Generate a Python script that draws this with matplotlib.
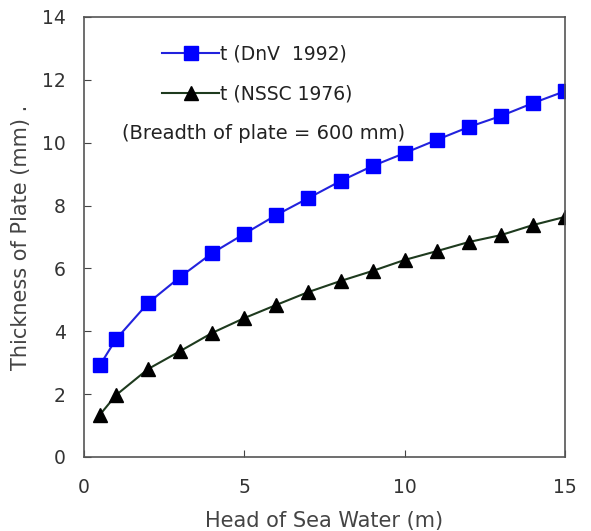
import matplotlib
matplotlib.use("Agg")
import matplotlib.pyplot as plt

head = [0.5, 1, 2, 3, 4, 5, 6, 7, 8, 9, 10, 11, 12, 13, 14, 15]
t_dnv = [2.93, 3.75, 4.9, 5.73, 6.49, 7.1, 7.7, 8.24, 8.78, 9.26, 9.67, 10.09, 10.5, 10.85, 11.26, 11.64]
t_nssc = [1.35, 1.97, 2.8, 3.37, 3.95, 4.42, 4.84, 5.25, 5.6, 5.92, 6.27, 6.55, 6.84, 7.06, 7.38, 7.64]
xticks = [0, 5, 10, 15]
yticks = [0, 2, 4, 6, 8, 10, 12, 14]

plt.rcParams['font.family'] = ['DejaVu Sans']
fig = plt.figure(figsize=(5.91, 5.31), dpi=100)
ax = fig.add_axes([84/591, 1 - 457/531, (565-84)/591, (457-17)/531])

ax.plot(head, t_dnv, color='#2222dd', lw=1.5, marker='s', ms=10,
        mfc='#0000ff', mec='#0000ff', label='t (DnV  1992)')
ax.plot(head, t_nssc, color='#1e3a1e', lw=1.5, marker='^', ms=10,
        mfc='black', mec='black', label='t (NSSC 1976)')

ax.set_xlim(0, 15)
ax.set_ylim(0, 14)
ax.set_xticks(xticks)
ax.set_yticks(yticks)
ax.tick_params(direction='in', length=5, labelsize=13.5, colors='#444444',
               labelcolor='#333333')
ax.tick_params(axis='x', pad=15)
ax.tick_params(axis='y', pad=13)
for s in ax.spines.values():
    s.set_color('#555555')
    s.set_linewidth(1.2)

ax.set_xlabel('Head of Sea Water (m)', fontsize=15, color='#444444', labelpad=10)
ax.set_ylabel('Thickness of Plate (mm) .', fontsize=15, color='#444444', labelpad=8)

ax.legend(loc='upper left', bbox_to_anchor=(0.128, 0.975), frameon=False,
          fontsize=13.5, handlelength=3.0, handletextpad=0.05, labelspacing=1.1,
          labelcolor='#222222')
ax.text(0.08, 0.736, '(Breadth of plate = 600 mm)', transform=ax.transAxes,
        fontsize=14, color='#222222', ha='left', va='center')

fig.savefig('out.png', dpi=100)
